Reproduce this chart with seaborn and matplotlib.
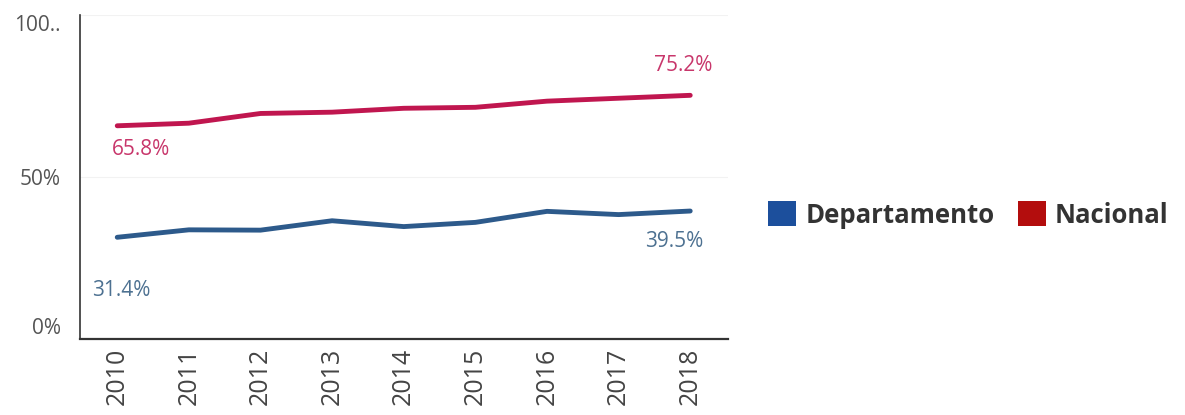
import matplotlib
matplotlib.use("Agg")
import matplotlib.pyplot as plt
import matplotlib.transforms as mtransforms
from matplotlib.patches import Patch
import pandas as pd
import seaborn as sns

YEARS = [2010, 2011, 2012, 2013, 2014, 2015, 2016, 2017, 2018]
NACIONAL = [65.8, 66.6, 69.6, 70.0, 71.2, 71.5, 73.4, 74.3, 75.2]
DEPARTAMENTO = [31.4, 33.7, 33.6, 36.5, 34.7, 36.0, 39.4, 38.4, 39.5]
SERIES = ["Departamento", "Nacional"]
Y_TICKS = [0, 50, 100]
Y_TICK_LABELS = ["0%", "50%", "100.."]

LINE_COLORS = {"Departamento": "#2d5a8b", "Nacional": "#c0164f"}
LABEL_COLORS = {"Departamento": "#4d7191", "Nacional": "#c8366b"}
LEGEND_COLORS = {"Departamento": "#1c4f9c", "Nacional": "#b30d0d"}

df = pd.concat([
    pd.DataFrame({"year": YEARS, "value": DEPARTAMENTO, "serie": "Departamento"}),
    pd.DataFrame({"year": YEARS, "value": NACIONAL, "serie": "Nacional"}),
])

sns.set_theme(style="white")
plt.rcParams["font.family"] = ["Open Sans", "DejaVu Sans"]

fig = plt.figure(figsize=(11.85, 4.15), dpi=100)
ax = fig.add_axes([0.0675, 0.183, 0.547, 0.781])

sns.lineplot(data=df, x="year", y="value", hue="serie", hue_order=SERIES,
             palette=LINE_COLORS, linewidth=3.5, legend=False, ax=ax)

ax.set_xlim(2009.48, 2018.53)
ax.set_ylim(0, 100)
ax.set_xticks(YEARS)
ax.set_xticklabels([str(y) for y in YEARS], rotation=90, fontsize=18, color="#444444")
ax.set_yticks(Y_TICKS)
ax.set_yticklabels(Y_TICK_LABELS, fontsize=15, color="#555555")
tl = ax.get_yticklabels()
tl[0].set_va("bottom")
tl[-1].set_va("top")
tl[-1].set_transform(tl[-1].get_transform()
                     + mtransforms.ScaledTranslation(0, -0.08, fig.dpi_scale_trans))
ax.tick_params(axis="y", length=0, pad=14)
ax.tick_params(axis="x", length=0, pad=6)
ax.set_xlabel("")
ax.set_ylabel("")
for s in ["top", "right"]:
    ax.spines[s].set_visible(False)
ax.spines["left"].set_color("#333333")
ax.spines["bottom"].set_color("#333333")
ax.spines["left"].set_linewidth(1.2)
ax.spines["bottom"].set_linewidth(1.6)
ax.grid(axis="y", color="#f2f2f2", linewidth=0.8)

def lab(serie, vals, idx, dx, dy, ha):
    ax.annotate(f"{vals[idx]:.1f}%", (YEARS[idx], vals[idx]),
                xytext=(dx, dy), textcoords="offset pixels",
                ha=ha, va="center", fontsize=15, color=LABEL_COLORS[serie])

lab("Nacional", NACIONAL, 0, -5, -24, "left")
lab("Departamento", DEPARTAMENTO, 0, -25, -53, "left")
lab("Nacional", NACIONAL, -1, 22, 30, "right")
lab("Departamento", DEPARTAMENTO, -1, 13, -30, "right")

handles = [Patch(facecolor=LEGEND_COLORS[s], edgecolor="none", label=s) for s in SERIES]
leg = fig.legend(handles=handles, loc="center left", bbox_to_anchor=(0.633, 0.482),
                 ncol=2, frameon=False, handlelength=1.1, handleheight=1.1,
                 handletextpad=0.35, columnspacing=0.9, borderpad=0.2,
                 prop={"weight": "bold", "size": 18.5})
for t in leg.get_texts():
    t.set_color("#333333")

fig.savefig("out.png", dpi=100)
